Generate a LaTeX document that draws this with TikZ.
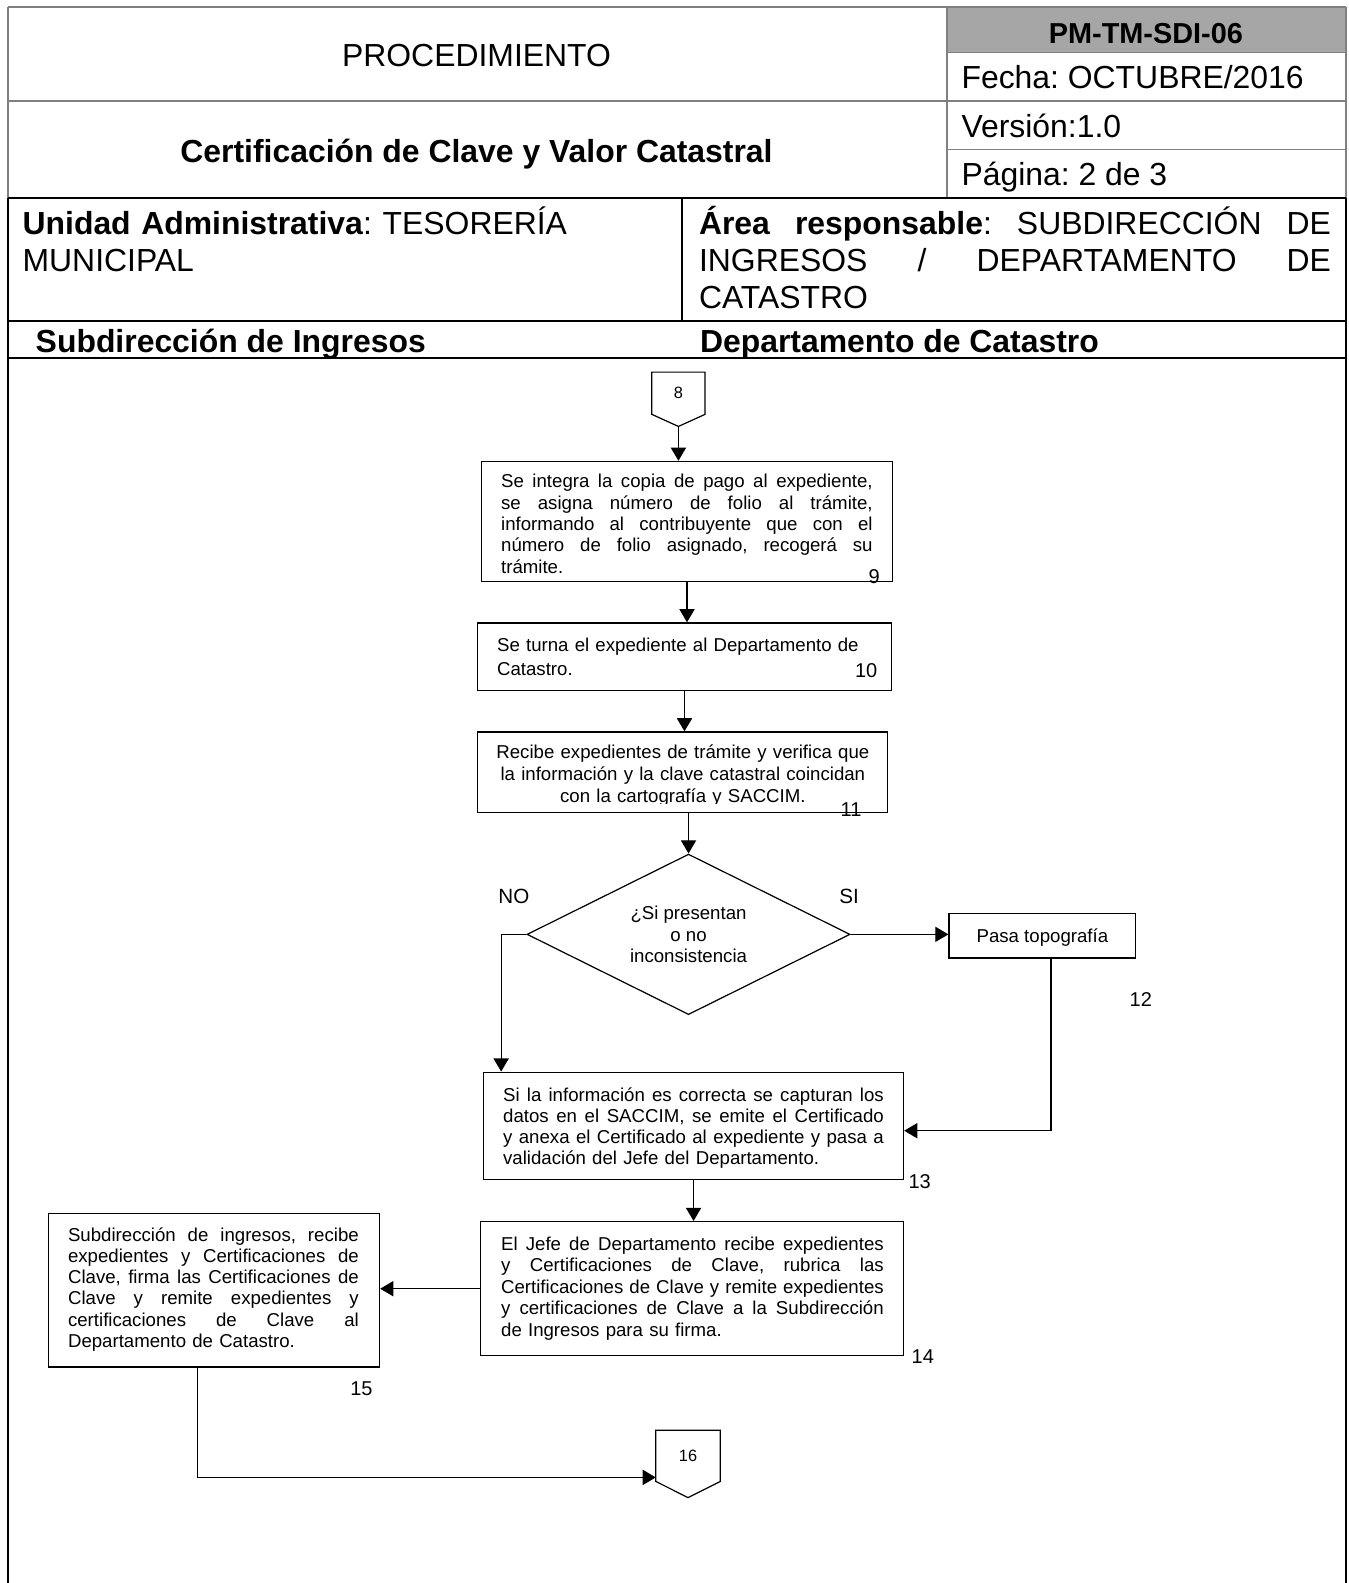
\documentclass[tikz,border=0pt]{standalone}
\usepackage{fontspec}
\setmainfont{Liberation Sans}
\usetikzlibrary{arrows.meta,fit,shapes.geometric,calc}
\definecolor{hdrgray}{RGB}{166,166,166}
\definecolor{linegray}{RGB}{128,128,128}
\frenchspacing
\newcommand{\hdrfont}{\fontsize{15.8pt}{18.5pt}\selectfont}
\newcommand{\pmfont}{\bfseries\fontsize{14.3pt}{17pt}\selectfont}
\newcommand{\flowfont}{\fontsize{9.23pt}{10.6pt}\selectfont}
\newcommand{\numfont}{\fontsize{9.9pt}{11pt}\selectfont}
\newcommand{\ysfont}{\fontsize{10.2pt}{12pt}\selectfont}
\newcommand{\cnfont}{\fontsize{8.1pt}{9pt}\selectfont}
\newcommand{\jline}[2]{\leavevmode\hbox to #1{\spaceskip=0.278em plus 1fil\relax #2}\\}
\tikzset{
  txt/.style={inner sep=0pt, anchor=base west},
  ctxt/.style={inner sep=0pt, anchor=base},
  box/.style={draw, line width=0.6pt, inner sep=0pt},
  arr/.style={line width=0.6pt, -{Triangle[length=6.5pt,width=7.5pt]}},
  ln/.style={line width=0.6pt},
  grayrule/.style={draw=linegray, line width=0.8pt},
  blackrule/.style={draw=black, line width=1pt},
  numlbl/.style={inner sep=0pt, font=\numfont},
}
\begin{document}
\begin{tikzpicture}[x=0.5pt,y=-0.5pt]
\useasboundingbox (0,0) rectangle (1336,1568);
% ---------- header table ----------
\fill[hdrgray] (938,7) rectangle (1333,52);
\draw[grayrule] (8,7) -- (1333,7);
\draw[grayrule] (8,7) -- (8,196);
\draw[grayrule] (1333,7) -- (1333,196);
\draw[grayrule] (938,7) -- (938,196);
\draw[grayrule] (938,52) -- (1333,52);
\draw[grayrule] (8,100) -- (1333,100);
\draw[grayrule] (938,148) -- (1333,148);
\draw[blackrule] (8,196) -- (1333,196);
\draw[blackrule] (676,196) -- (676,318);
\draw[blackrule] (8,318) -- (1333,318);
\draw[blackrule] (8,355) -- (1333,355);
\draw[blackrule] (8,196) -- (8,1568);
\draw[blackrule] (1333,196) -- (1333,1568);

\node[ctxt, font=\hdrfont] (proc) at (472,66) {PROCEDIMIENTO};
\node[ctxt, font=\hdrfont\bfseries] (title) at (472,161) {Certificación de Clave y Valor Catastral};
\node[ctxt, font=\pmfont] (code) at (1135,43) {PM-TM-SDI-06};
\node[txt, font=\hdrfont] (fecha) at (952,88) {Fecha: OCTUBRE/2016};
\node[txt, font=\hdrfont] (ver) at (952,136) {Versión:1.0};
\node[txt, font=\hdrfont] (pag) at (952,184) {Página: 2 de 3};
\node[txt, font=\hdrfont, text width=300pt, align=left] (unidad) at (22,232)
  {\textbf{Unidad Administrativa}: TESORERÍA\\MUNICIPAL};
\node[txt, font=\hdrfont, text width=313pt] (area) at (692,232)
  {\jline{313pt}{\textbf{Área responsable}: SUBDIRECCIÓN DE}\jline{313pt}{INGRESOS / DEPARTAMENTO DE}CATASTRO};
\node[txt, font=\hdrfont\bfseries] (lane1) at (35,349) {Subdirección de Ingresos};
\node[txt, font=\hdrfont\bfseries] (lane2) at (693,349) {Departamento de Catastro};

% ---------- off-page connector 8 ----------
\node[inner sep=0pt, minimum width=26pt, minimum height=20.5pt, font=\cnfont] (c8) at (672,389.5) {8};
\coordinate (c8tip) at ([yshift=-6pt]c8.south);
\draw[ln] (c8.north west) -- (c8.north east) -- (c8.south east) -- (c8tip) -- (c8.south west) -- cycle;

% ---------- boxes ----------
\node[box, fit={(477,457) (884,576)}] (b9) {};
\node[box, fit={(473,617) (883,684)}] (b10) {};
\node[box, fit={(473,725) (879,805)}] (b11) {};
\node[draw, diamond, aspect=2, line width=0.6pt, inner sep=0pt, minimum width=160pt, minimum height=79.5pt,
      align=center, font=\flowfont] (dia) at (682,925.5) {¿Si presentan\\o no\\inconsistencia};
\node[box, fit={(940,905) (1125,949)}] (pasa) {};
\node[box, fit={(479,1062) (895,1168)}] (b13) {};
\node[box, fit={(476,1210) (895,1343)}] (b14) {};
\node[box, fit={(48,1202) (376,1354)}] (b15) {};

% ---------- box texts ----------
\begin{scope}
\clip (470,440) rectangle (890,568.5);
\node[txt, font=\flowfont, text width=184pt] (t9) at (496,483)
  {\jline{184pt}{Se integra la copia de pago al expediente,}\jline{184pt}{se asigna número de folio al trámite,}\jline{184pt}{informando al contribuyente que con el}\jline{184pt}{número de folio asignado, recogerá su}trámite.};
\end{scope}
\node[txt, font=\fontsize{9.23pt}{11.5pt}\selectfont, text width=190pt, align=left] (t10) at (492,645.6)
  {Se turna el expediente al Departamento de\\Catastro.};
\begin{scope}
\clip (470,720) rectangle (885,795.5);
\node[txt, font=\fontsize{9.23pt}{10.75pt}\selectfont, text width=200pt, align=center] (t11) at (476,751.6)
  {Recibe expedientes de trámite y verifica que\\la información y la clave catastral coincidan\\con la cartografía y SACCIM.};
\end{scope}
\node[ctxt, font=\flowfont] (tpasa) at (1032.5,933.6) {Pasa topografía};
\node[txt, font=\fontsize{9.23pt}{10.5pt}\selectfont, text width=188.5pt] (t13) at (498,1090.6)
  {\jline{188.5pt}{Si la información es correcta se capturan los}\jline{188.5pt}{datos en el SACCIM, se emite el Certificado}\jline{188.5pt}{y anexa el Certificado al expediente y pasa a}validación del Jefe del Departamento.};
\node[txt, font=\fontsize{9.23pt}{10.6pt}\selectfont, text width=189.5pt] (t14) at (496,1238.6)
  {\jline{189.5pt}{El Jefe de Departamento recibe expedientes}\jline{189.5pt}{y Certificaciones de Clave, rubrica las}\jline{189.5pt}{Certificaciones de Clave y remite expedientes}\jline{189.5pt}{y certificaciones de Clave a la Subdirección}de Ingresos para su firma.};
\node[txt, font=\fontsize{9.23pt}{10.5pt}\selectfont, text width=144pt] (t15) at (67,1229.6)
  {\jline{144pt}{Subdirección de ingresos, recibe}\jline{144pt}{expedientes y Certificaciones de}\jline{144pt}{Clave, firma las Certificaciones de}\jline{144pt}{Clave y remite expedientes y}\jline{144pt}{certificaciones de Clave al}Departamento de Catastro.};

% ---------- step numbers and labels ----------
\node[numlbl] (n9) at (866,571) {9};
\node[numlbl] (n10) at (858,664) {10};
\node[numlbl] (n11) at (843,802) {11};
\node[numlbl] (n12) at (1130,990) {12};
\node[numlbl] (n13) at (911,1170) {13};
\node[numlbl] (n14) at (914,1344) {14};
\node[numlbl] (n15) at (358,1376) {15};
\node[inner sep=0pt, font=\ysfont] (no) at (509,888) {NO};
\node[inner sep=0pt, font=\ysfont] (si) at (841,888) {SI};

% ---------- off-page connector 16 ----------
\node[inner sep=0pt, minimum width=31.5pt, minimum height=25pt, font=\cnfont] (c16) at (681.5,1442) {16};
\coordinate (c16tip) at ([yshift=-8pt]c16.south);
\draw[ln] (c16.north west) -- (c16.north east) -- (c16.south east) -- (c16tip) -- (c16.south west) -- cycle;

% ---------- connectors ----------
\draw[arr] (c8tip) -- (c8tip |- b9.north);
\draw[arr] (b9.south) -- (b9.south |- b10.north);
\draw[arr] (b10.south) -- (b10.south |- b11.north);
\draw[arr] (dia.north |- b11.south) -- (dia.north);
\draw[arr] (dia.east) -- (dia.east -| pasa.west);
\draw[arr] (dia.west) -| ([xshift=9pt]b13.north west);
\draw[arr] ([xshift=4.25pt]pasa.south) |- ([yshift=-2.5pt]b13.east);
\draw[arr] (b13.south) -- (b13.south |- b14.north);
\draw[arr] (b14.west) -- (b14.west -| b15.east);
\draw[arr] ([xshift=-8pt]b15.south) |- ([yshift=2pt]c16.south west);
\end{tikzpicture}
\end{document}
